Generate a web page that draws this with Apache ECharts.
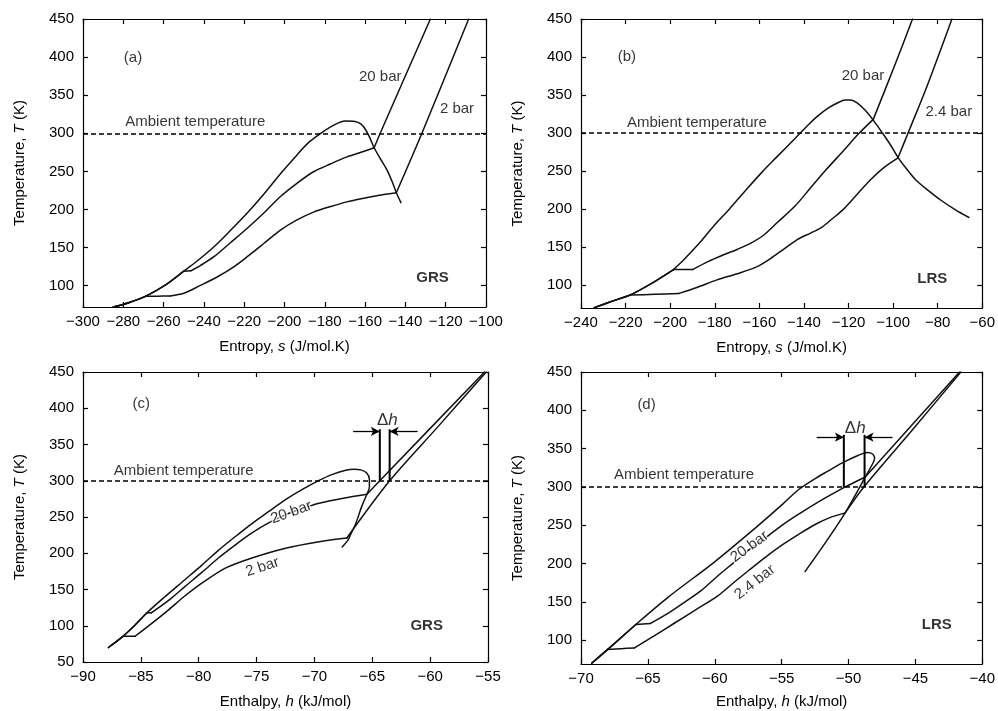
<!DOCTYPE html>
<html>
<head>
<meta charset="utf-8">
<script src="https://cdn.jsdelivr.net/npm/echarts@6/dist/echarts.min.js"></script>
<style>html,body{margin:0;padding:0;background:#fff}#c{width:998px;height:711px}</style>
</head>
<body>
<div id="c"></div>
<script>
// ---------- DATA ----------
// points are [x, T]; a third value 1 marks a sharp corner of the curve
// Panel (a): GRS, T–s   [s (J/mol.K), T (K)]
const aDome = [[-285,72],[-277,78],[-269,86],[-259,101],[-250,119],[-243,133],[-235,151],[-227,172],[-218.6,195],[-210,221],[-202,247],[-194,271],[-188,288],[-182,300],[-176,310],[-170,316],[-165,315.5],[-162,312],[-159.8,305],[-157.8,295],[-155.5,281],[-152.3,266],[-149,251],[-146.5,236],[-144.5,222],[-142.2,209]];
const a20bar = [[-285,72],[-277,78],[-269,86],[-259,101],[-250,119,1],[-246.5,119.5,1],[-242,126],[-235,138],[-227,156],[-218.6,175],[-210,196],[-202,217],[-194,234],[-185.6,249.5],[-177,260],[-169,269],[-162,275],[-155.5,281,1],[-152.5,300],[-127.6,450]];
const a2bar = [[-285,72],[-277,78],[-269,86,1],[-263,86.2],[-256.7,86.5,1],[-250,90],[-242,100],[-233,112],[-225,125],[-218,139],[-210,156],[-202,173],[-194,186],[-185.6,196.5],[-177,204],[-169,210],[-160,215],[-152,219],[-144.5,222,1],[-131.8,300],[-108.6,450]];

// Panel (b): LRS, T–s
const bDome = [[-234,70.5],[-226,79],[-218,87],[-208.5,102],[-198.5,120.5,1],[-194,133],[-187,155],[-181,176],[-173.5,200],[-166.5,223.5],[-159,248],[-151.7,270],[-146,287],[-142,299],[-138,311],[-134,322],[-129,333],[-125,339.5],[-121.5,343.5],[-119,343.5],[-116.3,340],[-112.5,330],[-108.9,317],[-105,301],[-101.5,286],[-97.8,268],[-94,253],[-89.7,238],[-84,224],[-78.7,212],[-72,199],[-66,189]];
const b20bar = [[-234,70.5],[-226,79],[-218,87],[-208.5,102],[-198.5,120.5,1],[-190,120.5,1],[-183,131],[-176,140],[-170,147],[-164,155],[-158,166],[-151.7,183],[-144,204],[-137,228],[-130,252],[-122.2,277],[-115.5,299],[-108.9,318,1],[-98.6,394],[-91.3,450]];
const b24bar = [[-234,70.5],[-226,79],[-218,87,1],[-207,88],[-196,89.2,1],[-188,97],[-179,107],[-170,115],[-161.3,124],[-155,135],[-149.5,146.5],[-143,160],[-137,168.5],[-132,176],[-127,188],[-122.2,200],[-116,220],[-110,239],[-104,255],[-97.8,267.5,1],[-92.6,305],[-85,360],[-73.6,450]];

// Panel (c): GRS, T–h   [h (kJ/mol), T (K)]
const cDome = [[-87.8,70],[-86.5,86],[-85.5,101],[-84.5,117.6],[-83,139],[-81.2,163.5],[-79.7,184],[-78.3,204],[-76.8,223.5],[-75.4,241],[-74,257],[-72.5,274],[-71,288.5],[-69.6,300.5],[-68.5,308.5],[-67.3,314.5],[-66.6,316],[-66,315],[-65.5,311],[-65.25,302],[-65.25,291],[-65.45,282],[-65.9,265],[-66.45,240],[-66.9,225],[-67.1,218],[-67.6,208.6]];
const c20bar = [[-87.8,70],[-86.5,86],[-85.5,101],[-84.5,117.6,1],[-84.1,117.8,1],[-82.6,135],[-81.2,154],[-79.7,174],[-78.3,193.5],[-76.8,212],[-75.4,228],[-74,241.5],[-72.5,253],[-71,262],[-69.6,269],[-67.5,276],[-65.45,281.5,1],[-64.35,300],[-55.3,450]];
const c2bar = [[-87.8,70],[-86.5,85.5,1],[-85.5,85.5,1],[-84,104],[-82.6,122],[-81.2,141],[-79.7,159],[-77.7,179.5],[-75.4,193.5],[-72.5,207],[-69.6,216],[-67.2,221,1],[-63.5,300],[-59.3,375],[-55.15,450]];

// Panel (d): LRS, T–h
const dDome = [[-69.2,70],[-68,88],[-65.9,120.5],[-63.5,156],[-60.1,201],[-57.4,240],[-54.9,278],[-53.7,297],[-52.4,312],[-51.5,321],[-50.5,331],[-49.3,341],[-48.6,345],[-48.2,343],[-48.05,337],[-48.3,327],[-48.75,313],[-49.15,300],[-50.25,266.2],[-51.7,228],[-53.25,189.6]];
const d20bar = [[-69.2,70],[-68,88],[-65.9,120.5,1],[-64.8,122,1],[-63.5,135],[-62.3,149],[-61,165],[-59.8,183.5],[-58.6,201],[-57.4,218.5],[-56.1,235],[-54.9,251],[-53.6,266],[-52.4,279],[-51.3,290],[-50.3,299.5],[-48.75,313,1],[-41.7,450]];
const d24bar = [[-69.2,70],[-68,88,1],[-67,89],[-66,90,1],[-64.5,106],[-63,122.5],[-61.4,140],[-59.8,157.5],[-58.6,175],[-57.4,192],[-56.2,208.5],[-54.9,225],[-53.7,238.5],[-52.5,251],[-51.4,260],[-50.25,266.2,1],[-48.85,300],[-45.2,375],[-41.6,450]];

// Ambient temperature (K)
const ambientT = 300;

// Δh markers: [h at 20 bar, h at low pressure, top T of the bars, arrow T, arrow tail left, arrow tail right]
const cDeltaH = [-64.35, -63.5, 371, 368, -66.66, -61.08];
const dDeltaH = [-50.35, -48.8, 368, 365, -52.38, -46.71];

// Tick labels
const tTicksTop = [100,150,200,250,300,350,400,450];
const tTicksBottom = [50,100,150,200,250,300,350,400,450];

// Annotations: [text, x, y, rotation]
const aNotes = [['(a)',-275.2,398.4,0],['Ambient temperature',-244.3,314.4,0],['20 bar',-152.5,374.3,0],['2 bar',-114.4,331.5,0],['GRS',-126.5,110.5,0]];
const bNotes = [['(b)',-219.4,400.8,0],['Ambient temperature',-188,313,0],['20 bar',-113.5,374.7,0],['2.4 bar',-75,327.8,0],['LRS',-82.4,108.3,0]];
const cNotes = [['(c)',-84.96,405.9,0],['Ambient temperature',-81.3,314.3,0],['20 bar',-72.0,256.3,20],['2 bar',-74.5,181,18],['GRS',-60.3,100.5,0],['Δh',-63.7,383,0]];
const dNotes = [['(d)',-65.1,406.5,0],['Ambient temperature',-62.3,316,0],['20 bar',-57.4,222,36],['2.4 bar',-57.0,175.7,38],['LRS',-43.4,119.6,0],['Δh',-49.5,376,0]];

// ---------- CHART ----------
const FONT = '"Liberation Sans", Arial, Helvetica, sans-serif';
const INK = '#000';
const LINE = '#111';
const minus = v => String(v).replace('-', '\u2212');
const BOLD = ['GRS','LRS'];

const panels = [
  {grid:{left:83,top:19,width:403,height:288}, xr:[-300,-100,20], yr:[72,450], ticks:tTicksTop,
   xName:'Entropy, {i|s} (J/mol.K)', xGap:32, curves:[aDome,a20bar,a2bar], notes:aNotes, dh:null},
  {grid:{left:581,top:19,width:406,height:289}, xr:[-240,-60,20], yr:[70,450], ticks:tTicksTop,
   xName:'Entropy, {i|s} (J/mol.K)', xGap:32, curves:[bDome,b20bar,b24bar], notes:bNotes, dh:null},
  {grid:{left:83,top:372,width:405,height:290}, xr:[-90,-55,5], yr:[50,450], ticks:tTicksBottom,
   xName:'Enthalpy, {i|h} (kJ/mol)', xGap:32, curves:[cDome,c20bar,c2bar], notes:cNotes, dh:cDeltaH},
  {grid:{left:581,top:372,width:406,height:292}, xr:[-70,-40,5], yr:[69,450], ticks:tTicksTop,
   xName:'Enthalpy, {i|h} (kJ/mol)', xGap:30, curves:[dDome,d20bar,d24bar], notes:dNotes, dh:dDeltaH}
];

// split a curve into smooth pieces at its marked corners
function pieces(curve) {
  const out = []; let cur = [];
  curve.forEach((pt, i) => {
    cur.push([pt[0], pt[1]]);
    if (pt[2] === 1 && i > 0 && i < curve.length - 1) { out.push(cur); cur = [[pt[0], pt[1]]]; }
  });
  if (cur.length > 1) out.push(cur);
  return out;
}

const richName = {
  fontSize:15, fontFamily:FONT, color:INK,
  rich:{ i:{fontStyle:'italic', fontSize:15, fontFamily:FONT, color:INK} }
};

const grids = [], xAxes = [], yAxes = [], series = [];
panels.forEach((p, gi) => {
  grids.push(Object.assign({containLabel:false}, p.grid));
  const axLine = {show:true, onZero:false, lineStyle:{color:'#000', width:1.2}};
  const tick = {show:true, inside:true, length:5, lineStyle:{color:'#000', width:1.2}};
  xAxes.push({
    type:'value', gridIndex:gi, position:'bottom', min:p.xr[0], max:p.xr[1], interval:p.xr[2],
    axisLine:axLine, axisTick:tick, splitLine:{show:false},
    axisLabel:{show:true, margin:7, color:INK, fontSize:15, fontFamily:FONT, formatter:minus, showMinLabel:true, showMaxLabel:true},
    name:p.xName, nameLocation:'middle', nameGap:p.xGap, nameTextStyle:richName
  });
  xAxes.push({
    type:'value', gridIndex:gi, position:'top', min:p.xr[0], max:p.xr[1], interval:p.xr[2],
    axisLine:axLine, axisTick:tick, splitLine:{show:false}, axisLabel:{show:false}
  });
  yAxes.push({
    type:'value', gridIndex:gi, position:'left', min:p.yr[0], max:p.yr[1],
    axisLine:axLine, axisTick:Object.assign({customValues:p.ticks}, tick), splitLine:{show:false},
    axisLabel:{show:true, margin:9, color:INK, fontSize:15, fontFamily:FONT, customValues:p.ticks, showMinLabel:true, showMaxLabel:true},
    name:'Temperature, {i|T} (K)', nameLocation:'middle', nameGap:56, nameTextStyle:richName
  });
  yAxes.push({
    type:'value', gridIndex:gi, position:'right', min:p.yr[0], max:p.yr[1],
    axisLine:axLine, axisTick:Object.assign({customValues:p.ticks}, tick), splitLine:{show:false},
    axisLabel:{show:false}
  });
  const xi = gi*2, yi = gi*2;
  series.push({
    type:'line', xAxisIndex:xi, yAxisIndex:yi, data:[], symbol:'none', silent:true,
    markLine:{
      silent:true, symbol:['none','none'], label:{show:false}, animation:false,
      lineStyle:{color:INK, width:1.7, type:[5,3]},
      data:[{yAxis:ambientT}]
    }
  });
  p.curves.forEach(curve => {
    pieces(curve).forEach(seg => {
      series.push({
        type:'line', xAxisIndex:xi, yAxisIndex:yi, data:seg, symbol:'none', silent:true, smooth:0.3,
        lineStyle:{color:LINE, width:1.5, cap:'round', join:'round'}, z:3
      });
    });
  });
  if (p.dh) {
    const [h1,h2,top,ay,tl,tr] = p.dh;
    series.push({type:'line', xAxisIndex:xi, yAxisIndex:yi, data:[[h1,ambientT],[h1,top]], symbol:'none', silent:true, lineStyle:{color:INK,width:2}, z:4});
    series.push({type:'line', xAxisIndex:xi, yAxisIndex:yi, data:[[h2,ambientT],[h2,top]], symbol:'none', silent:true, lineStyle:{color:INK,width:2}, z:4,
      markLine:{
        silent:true, animation:false, label:{show:false}, symbolSize:[7,9],
        lineStyle:{color:INK, width:1.3, type:'solid'}, itemStyle:{color:INK},
        data:[
          [{coord:[tl,ay], symbol:'none'},{coord:[h1,ay], symbol:'arrow'}],
          [{coord:[tr,ay], symbol:'none'},{coord:[h2,ay], symbol:'arrow'}]
        ]
      }});
  }
  series.push({
    type:'scatter', xAxisIndex:xi, yAxisIndex:yi, symbolSize:1, silent:true, z:6,
    itemStyle:{color:'transparent'},
    data:p.notes.map(n => ({
      value:[n[1], n[2]], name:n[0],
      label:{rotate:n[3], fontWeight: BOLD.includes(n[0]) ? 'bold' : 'normal',
             textBorderColor: n[3] ? '#fff' : 'transparent', textBorderWidth: n[3] ? 3 : 0}
    })),
    label:{
      show:true, position:'inside', color:INK, fontSize:15, fontFamily:FONT,
      formatter: q => q.name === 'Δh' ? '{n|Δ}{i|h}' : q.name,
      rich:{
        n:{fontSize:17, fontFamily:FONT, color:INK},
        i:{fontSize:17, fontFamily:FONT, color:INK, fontStyle:'italic'}
      }
    }
  });
});

const chart = echarts.init(document.getElementById('c'), null, {renderer:'canvas'});
chart.setOption({
  animation:false,
  backgroundColor:'#fff',
  textStyle:{fontFamily:FONT},
  grid:grids, xAxis:xAxes, yAxis:yAxes, series:series
});
</script>
</body>
</html>
